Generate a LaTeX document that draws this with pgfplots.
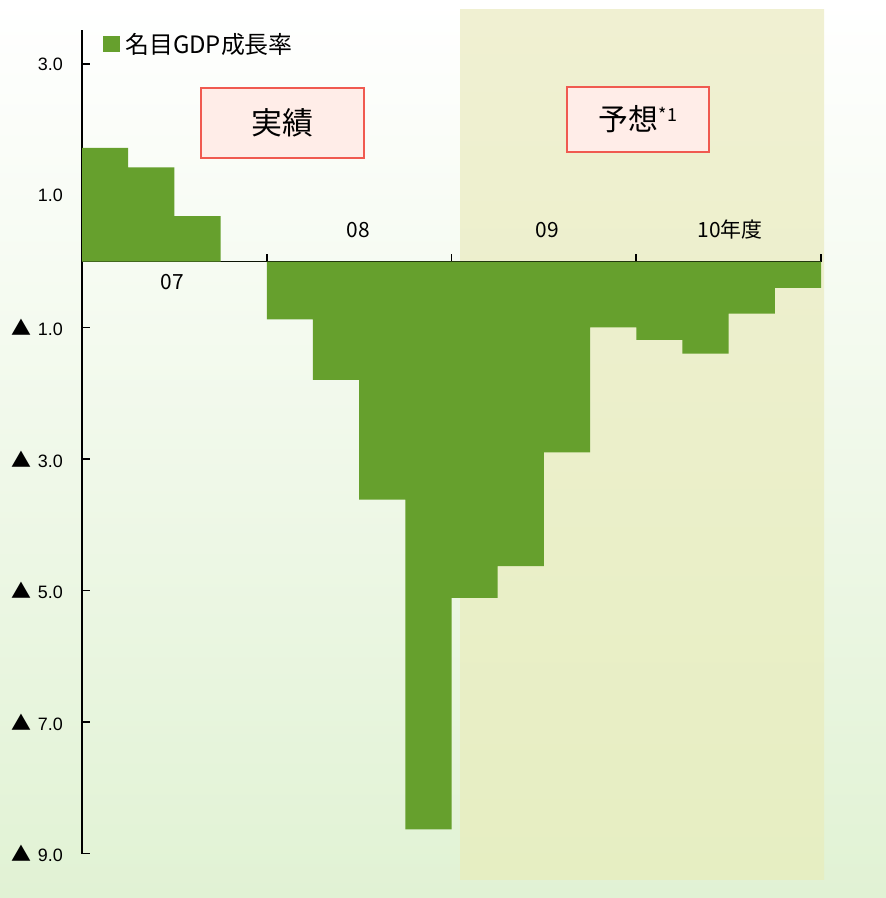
\documentclass[border=0pt]{standalone}
\usepackage{pgfplots}
\pgfplotsset{compat=1.18}
\usepackage{fontspec}
\setmainfont{Liberation Sans}
\newfontfamily\jp{Noto Sans CJK JP}
\definecolor{barc}{HTML}{66A02D}
\definecolor{bgbot}{HTML}{E1F2D4}
\definecolor{fctop}{HTML}{F0F0D2}
\definecolor{fcbot}{HTML}{E6EEC2}
\definecolor{boxred}{HTML}{F05A50}
\definecolor{boxpink}{HTML}{FFEDE8}
\pgfplotstableread{
x y
0 1.73
1 1.43
2 0.69
3 0.00
4 -0.88
5 -1.80
6 -3.62
7 -8.63
8 -5.11
9 -4.63
10 -2.90
11 -1.00
12 -1.19
13 -1.40
14 -0.79
15 -0.40
16 -0.40
}\gdp
\newcommand{\tri}{{\jp\fontsize{20}{20}\selectfont ▲}\hspace{6bp}}
\begin{document}
\begin{tikzpicture}[x=1bp,y=1bp]
\useasboundingbox (0,0) rectangle (886,898);
\shade[top color=white, bottom color=bgbot] (0,0) rectangle (886,898);
\shade[top color=fctop, bottom color=fcbot] (460,18) rectangle (824,888);
\begin{axis}[
  at={(82bp,44.3bp)}, anchor=south west, scale only axis,
  width=739bp, height=823.7bp,
  xmin=0, xmax=16, ymin=-9, ymax=3.52,
  axis x line=middle, axis y line=left,
  axis line style={-, line width=1.6bp, black},
  every tick/.style={black, line width=1.6bp},
  tick align=inside, major tick length=8bp,
  xtick={4,8,12,16}, xticklabels={},
  ytick={-9,-7,-5,-3,-1,1,3},
  yticklabels={\tri 9.0,\tri 7.0,\tri 5.0,\tri 3.0,\tri 1.0,1.0,3.0},
  yticklabel style={font=\fontsize{18}{20}\selectfont, anchor=east, inner sep=0pt, xshift=-19bp},
  clip=false,
]
\addplot[ybar interval, fill=barc, draw=none] table[x=x,y=y] {\gdp};
\end{axis}
\fill[barc] (103,846) rectangle (120,862);
\node[anchor=west, inner sep=0pt, font=\jp\fontsize{24}{26}\selectfont] at (125,854) {名目GDP成長率};
\node[draw=boxred, line width=1.3bp, fill=boxpink, minimum width=163bp, minimum height=70bp, inner sep=0pt, font=\jp\fontsize{31}{33}\selectfont] at (282.5,775) {実績};
\node[draw=boxred, line width=1.3bp, fill=boxpink, minimum width=142bp, minimum height=65bp, inner sep=0pt, font=\jp\fontsize{30}{32}\selectfont] at (638,778.5) {予想\raisebox{9bp}{\fontsize{18}{20}\selectfont *1}};
\node[font=\jp\fontsize{21}{23}\selectfont] at (172,616) {07};
\node[font=\jp\fontsize{21}{23}\selectfont] at (358,668) {08};
\node[font=\jp\fontsize{21}{23}\selectfont] at (547,668) {09};
\node[font=\jp\fontsize{21}{23}\selectfont] at (730,668) {10年度};
\end{tikzpicture}
\end{document}
